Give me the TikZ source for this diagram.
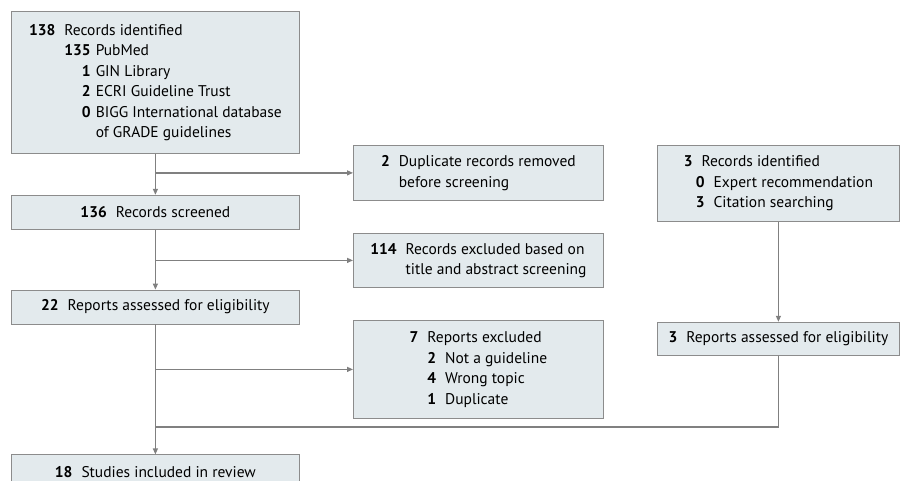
\documentclass[tikz,border=0pt]{standalone}
\usepackage{fontspec}
\setmainfont{PT Sans}
\usetikzlibrary{positioning,arrows.meta}
\definecolor{boxfill}{RGB}{227,234,237}
\definecolor{boxline}{RGB}{140,140,140}
\definecolor{flowline}{RGB}{128,128,128}
\newcommand\nm[1]{\textbf{#1}\hspace{9pt}}

\begin{document}
\begin{tikzpicture}[x=1pt, y=-1pt, >={Triangle[length=6pt,width=5pt]},
  box/.style={draw=boxline, fill=boxfill, line width=0.8pt, rectangle, align=left, inner sep=0pt, font=\fontsize{15.5}{20.5}\selectfont},
  flow/.style={->, draw=flowline, line width=1.2pt},
  plain/.style={draw=flowline, line width=1.2pt}]
  \useasboundingbox (0,0) rectangle (901,480);

  % main column
  \node[box, minimum width=288pt, minimum height=142pt, anchor=north west] (ident) at (11,11) {\nm{138}Records identified\\
    \phantom{\nm{138}}\textbf{135}\hspace{5pt}PubMed\\
    \phantom{\nm{138}\textbf{13}}\textbf{1}\hspace{5pt}GIN Library\\
    \phantom{\nm{138}\textbf{13}}\textbf{2}\hspace{5pt}ECRI Guideline Trust\\
    \phantom{\nm{138}\textbf{13}}\textbf{0}\hspace{5pt}BIGG International database\\
    \phantom{\nm{138}\textbf{135}}\hspace{5pt}of GRADE guidelines};
  \node[box, minimum width=288pt, minimum height=34pt] (screen) [below=41pt of ident] {\nm{136}Records screened};
  \node[box, minimum width=288pt, minimum height=34pt] (elig) [below=60pt of screen] {\nm{22}Reports assessed for eligibility};
  \node[box, minimum width=288pt, minimum height=34pt] (incl) [below=130pt of elig] {\nm{18}Studies included in review};

  % exclusions
  \node[box, minimum width=250pt, minimum height=55pt, anchor=north west] (dupl) at (353,145) {\nm{2}Duplicate records removed\\
    \phantom{\nm{2}}before screening};
  \node[box, minimum width=250pt, minimum height=54pt, anchor=north west] (excl) at (353,233) {\nm{114}Records excluded based on\\
    \phantom{\nm{114}}title and abstract screening};
  \node[box, minimum width=250pt, minimum height=98pt, anchor=north west] (rexcl) at (353,320) {\nm{7}Reports excluded\\
    \phantom{\nm{7}}\nm{2}Not a guideline\\
    \phantom{\nm{7}}\nm{4}Wrong topic\\
    \phantom{\nm{7}}\nm{1}Duplicate};

  % other methods
  \node[box, minimum width=242pt, minimum height=76pt, anchor=north west] (other) at (657,145) {\nm{3}Records identified\\
    \hspace{12pt}\nm{0}Expert recommendation\\
    \hspace{12pt}\nm{3}Citation searching};
  \node[box, minimum width=242pt, minimum height=33pt] (oelig) [below=100pt of other] {\nm{3}Reports assessed for eligibility};

  \coordinate (merge) at (155,427);

  \draw[flow] (ident) -- (screen);
  \draw[flow] (ident.south |- dupl.west) -- (dupl.west);
  \draw[flow] (screen) -- (elig);
  \draw[flow] (screen.south |- excl.west) -- (excl.west);
  \draw[flow] (elig) -- (incl);
  \draw[flow] (elig.south |- rexcl.west) -- (rexcl.west);
  \draw[flow] (other) -- (oelig);
  \draw[plain] (oelig.south) |- (merge);
\end{tikzpicture}
\end{document}
